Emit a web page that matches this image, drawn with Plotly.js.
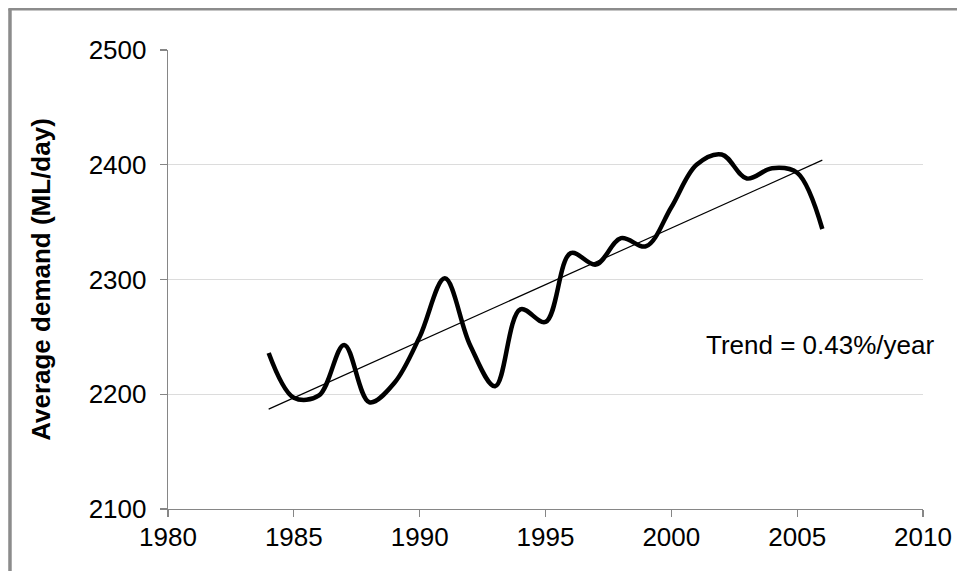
<!DOCTYPE html>
<html>
<head>
<meta charset="utf-8">
<script src="https://cdn.plot.ly/plotly-3.0.1.min.js"></script>
<style>
html,body{margin:0;padding:0;background:#fff;}
#chart{width:957px;height:571px;}
</style>
</head>
<body>
<div id="chart"></div>
<script>
// Data
var years = [1984,1985,1986,1987,1988,1989,1990,1991,1992,1993,1994,1995,1996,1997,1998,1999,2000,2001,2002,2003,2004,2005,2006];
var demand = [2236,2197,2199,2243,2193,2210,2250,2301,2243,2207,2274,2263,2323,2313,2336,2329,2363,2400,2409,2388,2397,2393,2344];
var trendYears = [1984, 2006];
var trendValues = [2187, 2404];
var xTicks = [1980,1985,1990,1995,2000,2005,2010];
var yTicks = [2100,2200,2300,2400,2500];
var yTitle = "Average demand (ML/day)";
var trendLabel = "Trend = 0.43%/year";

var FONT = "'Liberation Sans', Arial, Helvetica, sans-serif";

var traces = [
  {
    x: years, y: demand, type: 'scatter', mode: 'lines',
    line: {color: '#000000', width: 4.5, shape: 'spline', smoothing: 1},
    hoverinfo: 'skip', showlegend: false, cliponaxis: false
  },
  {
    x: trendYears, y: trendValues, type: 'scatter', mode: 'lines',
    line: {color: '#000000', width: 1.2},
    hoverinfo: 'skip', showlegend: false
  }
];

var layout = {
  width: 957, height: 571,
  margin: {l: 168, r: 34, t: 50, b: 62},
  paper_bgcolor: '#ffffff', plot_bgcolor: '#ffffff',
  font: {family: FONT, size: 26, color: '#000000'},
  showlegend: false,
  xaxis: {
    range: [1980, 2010], tickvals: xTicks, ticktext: xTicks.map(String),
    showgrid: false, zeroline: false,
    showline: true, linecolor: '#868686', linewidth: 1.3,
    ticks: 'outside', ticklen: 7, tickcolor: '#868686', tickwidth: 1.3,
    tickfont: {family: FONT, size: 26, color: '#000000'},
    ticklabelstandoff: -3
  },
  yaxis: {
    range: [2100, 2500], tickvals: yTicks, ticktext: yTicks.map(String),
    showgrid: true, gridcolor: '#dcdcdc', gridwidth: 1.3,
    zeroline: false,
    showline: true, linecolor: '#868686', linewidth: 1.3,
    ticks: 'outside', ticklen: 7, tickcolor: '#868686', tickwidth: 1.3,
    tickfont: {family: FONT, size: 26, color: '#000000'},
    ticklabelstandoff: 8,
    title: {text: '<b>' + yTitle + '</b>', font: {family: FONT, size: 26, color: '#000000'}, standoff: 30}
  },
  annotations: [
    {
      x: 2001.3, y: 2243, xref: 'x', yref: 'y',
      text: trendLabel, showarrow: false,
      xanchor: 'left', yanchor: 'middle',
      font: {family: FONT, size: 26, color: '#000000'}
    }
  ],
  shapes: [
    {type: 'line', xref: 'paper', yref: 'paper', x0: -0.2093, x1: -0.2093, y0: -0.2, y1: 1.0895,
     line: {color: '#8c8c8c', width: 3.5}},
    {type: 'line', xref: 'paper', yref: 'paper', x0: -0.2115, x1: 1.1, y0: 1.0886, y1: 1.0886,
     line: {color: '#8c8c8c', width: 2.5}}
  ]
};

Plotly.newPlot('chart', traces, layout, {displayModeBar: false, staticPlot: true});
</script>
</body>
</html>
